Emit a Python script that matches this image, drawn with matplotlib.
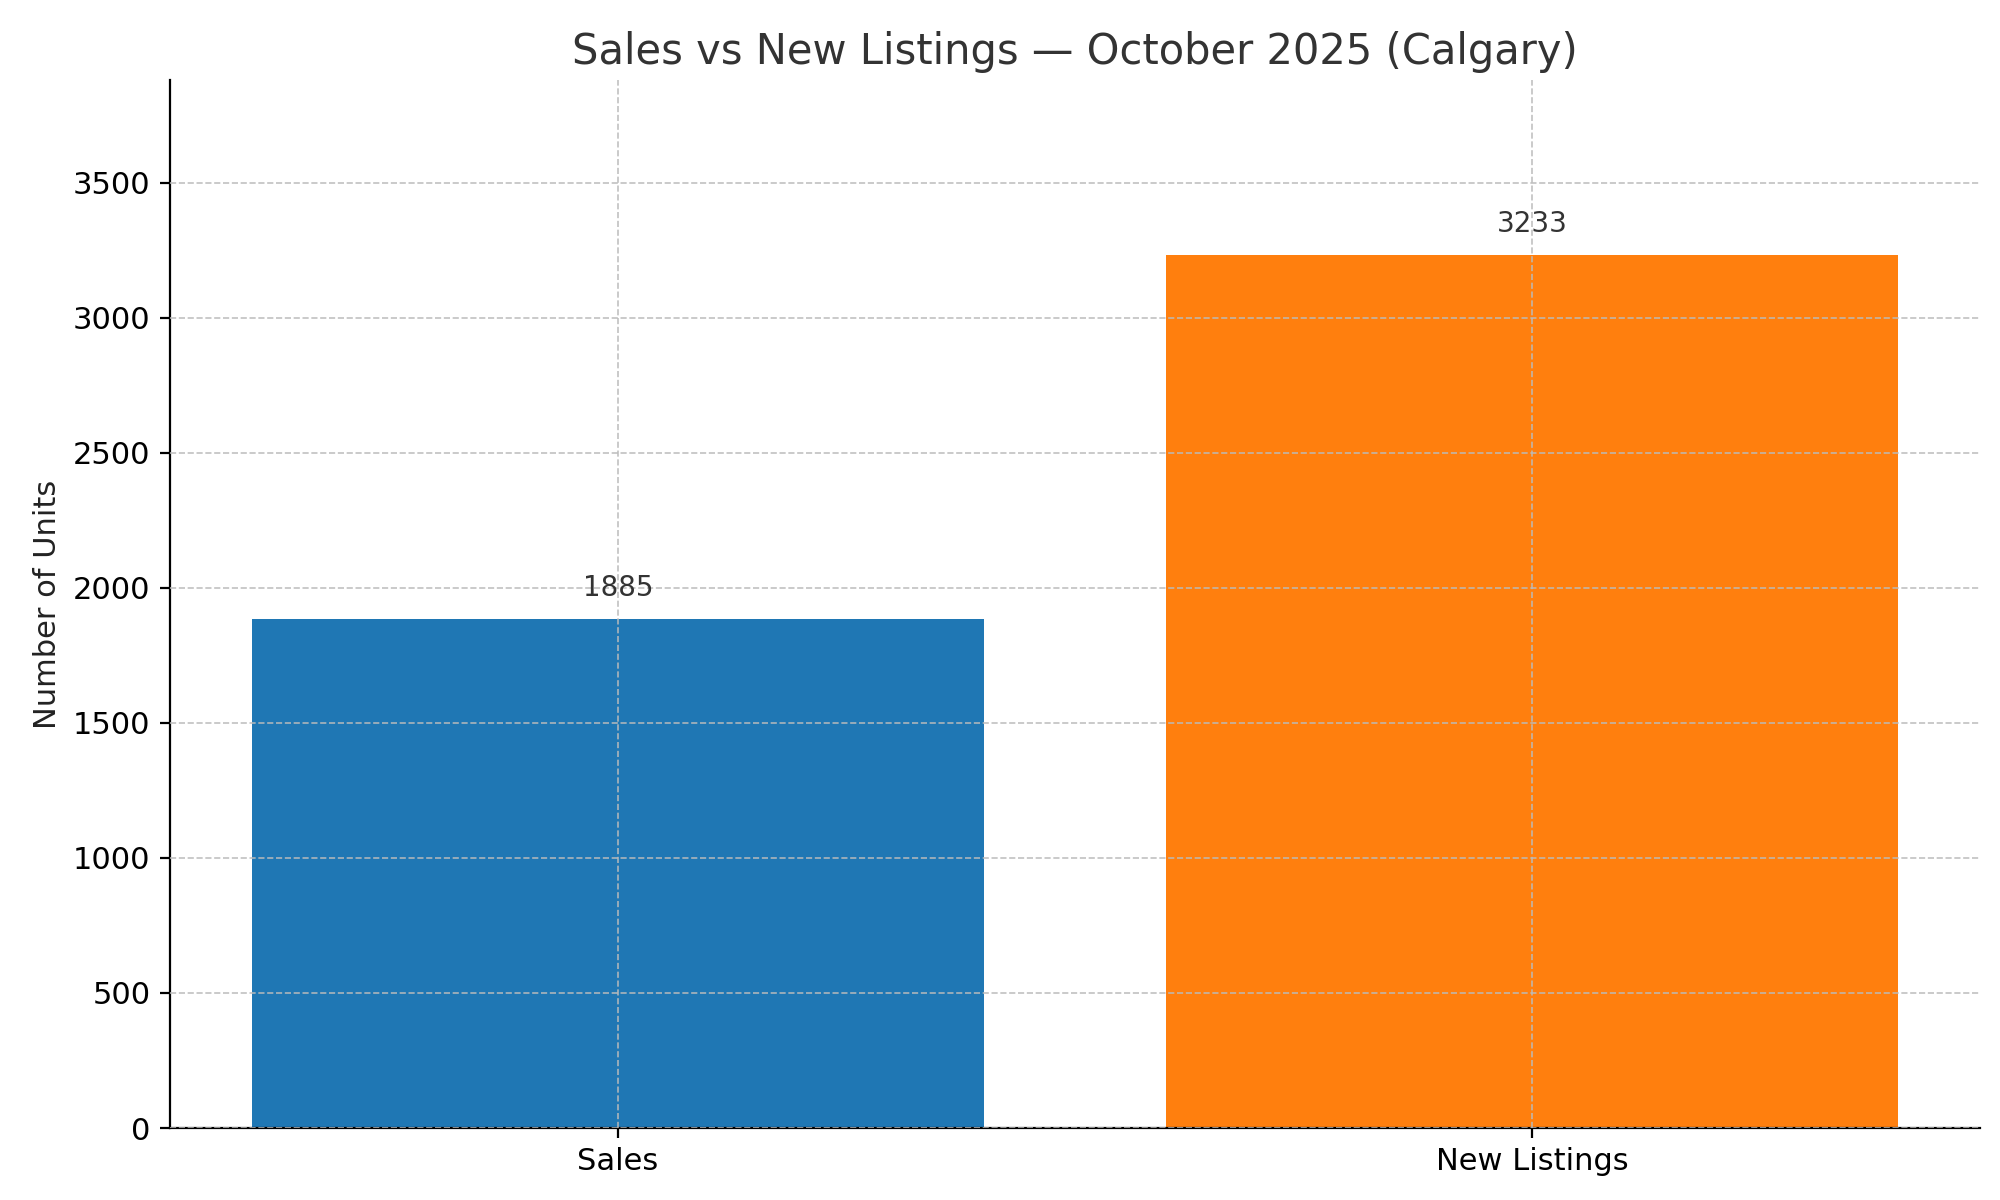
import matplotlib
matplotlib.use("Agg")
import matplotlib.pyplot as plt

categories = ["Sales", "New Listings"]
values = [1885, 3233]
colors = ["#1f77b4", "#ff7f0e"]

fig, ax = plt.subplots(figsize=(10, 6), dpi=200)
fig.subplots_adjust(left=0.085, right=0.99, top=0.933, bottom=0.06)
bars = ax.bar(categories, values, color=colors, width=0.8)
for b, v in zip(bars, values):
    ax.annotate(str(v), (b.get_x() + b.get_width() / 2, v), xytext=(0, 6),
                textcoords="offset points", ha="center", va="bottom",
                fontsize=10, color="#333333")
ax.set_ylim(0, max(values) * 1.2)
ax.set_title("Sales vs New Listings — October 2025 (Calgary)", fontsize=15, color="#333333")
ax.set_ylabel("Number of Units", fontsize=11, color="#222222")
ax.tick_params(labelsize=11)
ax.grid(True, linestyle="--", color="#bbbbbb", linewidth=0.6, alpha=0.9)
ax.set_axisbelow(False)
ax.spines["top"].set_visible(False)
ax.spines["right"].set_visible(False)
fig.savefig("out.png")
